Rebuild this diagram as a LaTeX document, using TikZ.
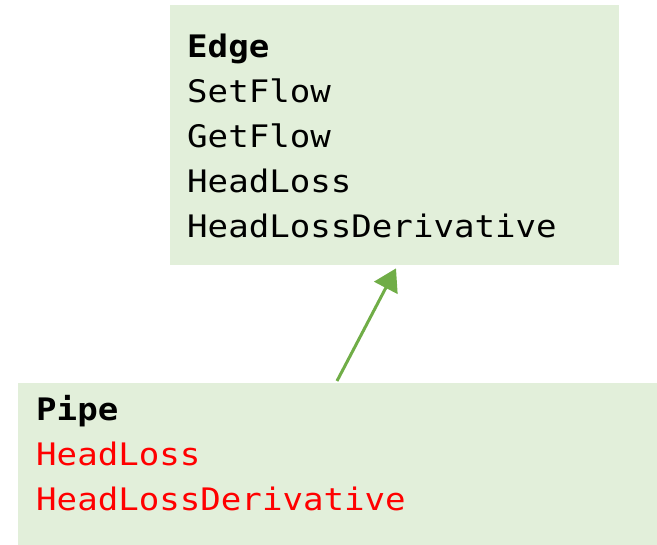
\documentclass[tikz,border=0pt]{standalone}
\usepackage{fontspec}
\setmonofont[FakeStretch=1.1]{DejaVu Sans Mono}
\usepackage[svgnames]{xcolor}
\usetikzlibrary{arrows.meta}
\definecolor{boxfill}{HTML}{E2EFDA}
\definecolor{linkgreen}{HTML}{70AD47}

\begin{document}
\begin{tikzpicture}[
  x=1pt, y=-1pt,
  classbox/.style={fill=boxfill, draw=none, inner sep=0pt, anchor=north west},
  classtext/.style={inner sep=0pt, anchor=north west, align=left,
    font=\ttfamily\fontsize{31}{45}\selectfont},
  inherits/.style={draw=linkgreen, line width=3pt,
    -{Triangle[length=22pt,width=26pt]}}]
\useasboundingbox (0,0) rectangle (657,545);

\node[classbox, minimum width=449pt, minimum height=260pt] (edge) at (170,5) {};
\node[classbox, minimum width=660pt, minimum height=170pt] (pipe) at (18,383) {};

\node[classtext] (edgetext) at (187,34)
  {\textbf{Edge}\\SetFlow\\GetFlow\\HeadLoss\\HeadLossDerivative};
\node[classtext] (pipetext) at (36,395)
  {\textbf{Pipe}\\\textcolor{red}{HeadLoss}\\\textcolor{red}{HeadLossDerivative}};

\draw[inherits] ([xshift=319pt, yshift=2pt]pipe.north west)
  -- ([xshift=226pt, yshift=-3pt]edge.south west);
\end{tikzpicture}
\end{document}
